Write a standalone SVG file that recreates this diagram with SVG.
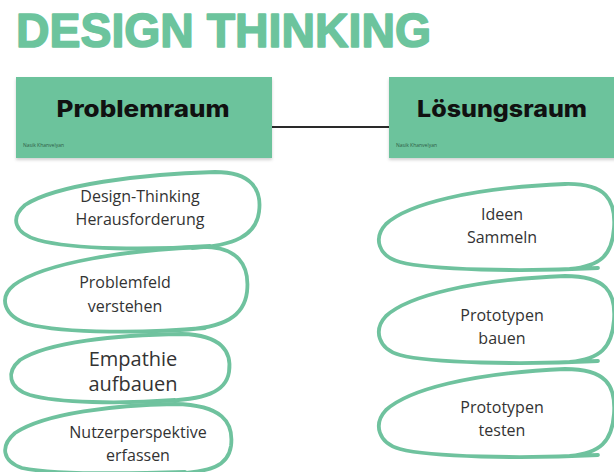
<svg xmlns="http://www.w3.org/2000/svg" width="614" height="472" viewBox="0 0 614 472">
<defs>
<filter id="sh" x="-5%" y="-10%" width="110%" height="125%">
<feDropShadow dx="0" dy="2" stdDeviation="1.5" flood-color="#000" flood-opacity="0.18"/>
</filter>
</defs>
<style>
.title{font-family:"Liberation Sans",Arial,sans-serif;font-weight:700;font-size:48px;fill:#6cc49d;stroke:#6cc49d;stroke-width:1.6;stroke-linejoin:round}
.box{fill:#6cc39c}
.head{font-family:"Inter","Liberation Sans",sans-serif;font-weight:800;font-size:23px;fill:#111;text-anchor:middle}
.auth{font-family:"Open Sans","Liberation Sans",sans-serif;font-size:5px;fill:#2f5e47}
.loop{fill:none;stroke:#6fc29e;stroke-width:3.8;stroke-linecap:round;stroke-linejoin:round}
.lbl{font-family:"Open Sans","Liberation Sans",sans-serif;font-size:16px;fill:#333;text-anchor:middle}
.big{font-size:20px}
.conn{stroke:#2a2a2a;stroke-width:2;fill:none}
</style>
<rect width="614" height="472" fill="#fff"/>
<text class="title" x="16" y="47" textLength="415" lengthAdjust="spacingAndGlyphs">DESIGN THINKING</text>

<g id="connectors">
<path class="conn" d="M272 127 L389 127"/>
</g>

<g id="problemraum">
<rect class="box" x="16" y="77" width="256" height="81" filter="url(#sh)"/>
<text class="head" x="143" y="117" textLength="173" lengthAdjust="spacingAndGlyphs">Problemraum</text>
<text class="auth" x="23" y="147">Nasik Khanvelyan</text>
</g>

<g id="loesungsraum">
<rect class="box" x="389" y="77" width="230" height="81" filter="url(#sh)"/>
<text class="head" x="502" y="117" textLength="170" lengthAdjust="spacingAndGlyphs">Lösungsraum</text>
<text class="auth" x="396" y="147">Nasik Khanvelyan</text>
</g>

<g id="n1">
<path class="loop" d="M210 246 C150 250 75 250 38 240 C14 233 10 218 25 205 C55 185 140 174 215 172 C252 172 262 190 259 212 C256 235 235 246 192 248"/>
<text class="lbl" x="140" y="202">Design-Thinking</text>
<text class="lbl" x="140" y="225">Herausforderung</text>
</g>

<g id="n2">
<path class="loop" d="M205 328 C150 333 65 334 28 324 C4 316 -2 298 14 285 C45 262 130 250 200 247 C238 246 250 265 247 292 C244 316 225 328 180 330"/>
<text class="lbl" x="125" y="288">Problemfeld</text>
<text class="lbl" x="125" y="312">verstehen</text>
</g>

<g id="n3">
<path class="loop" d="M175 400 C120 404 58 403 30 395 C8 388 6 372 20 360 C48 342 115 335 182 334 C222 335 232 352 229 372 C226 392 205 400 160 401"/>
<text class="lbl big" x="133" y="366">Empathie</text>
<text class="lbl big" x="133" y="391">aufbauen</text>
</g>

<g id="n4">
<path class="loop" d="M185 472 C120 474 52 474 22 468 C2 461 0 446 15 433 C45 413 115 405 175 404 C222 405 234 422 231 446 C228 466 212 472 170 474"/>
<text class="lbl" x="138" y="438">Nutzerperspektive</text>
<text class="lbl" x="138" y="461">erfassen</text>
</g>

<g id="r1">
<path class="loop" d="M598 268 C520 272 430 270 400 262 C378 256 373 238 386 224 C408 204 470 188 565 184 C606 183 616 200 614 228 C612 256 600 266 570 269"/>
<text class="lbl" x="502" y="220">Ideen</text>
<text class="lbl" x="502" y="243">Sammeln</text>
</g>

<g id="r2">
<path class="loop" d="M598 361 C520 365 430 363 400 355 C378 349 373 330 386 316 C408 296 470 280 565 276 C606 276 616 292 614 320 C612 348 600 359 570 362"/>
<text class="lbl" x="502" y="321">Prototypen</text>
<text class="lbl" x="502" y="344">bauen</text>
</g>

<g id="r3">
<path class="loop" d="M598 455 C520 459 430 457 400 449 C378 443 373 424 386 410 C408 390 470 373 565 369 C606 369 616 385 614 414 C612 442 600 453 570 456"/>
<text class="lbl" x="502" y="413">Prototypen</text>
<text class="lbl" x="502" y="436">testen</text>
</g>
</svg>
